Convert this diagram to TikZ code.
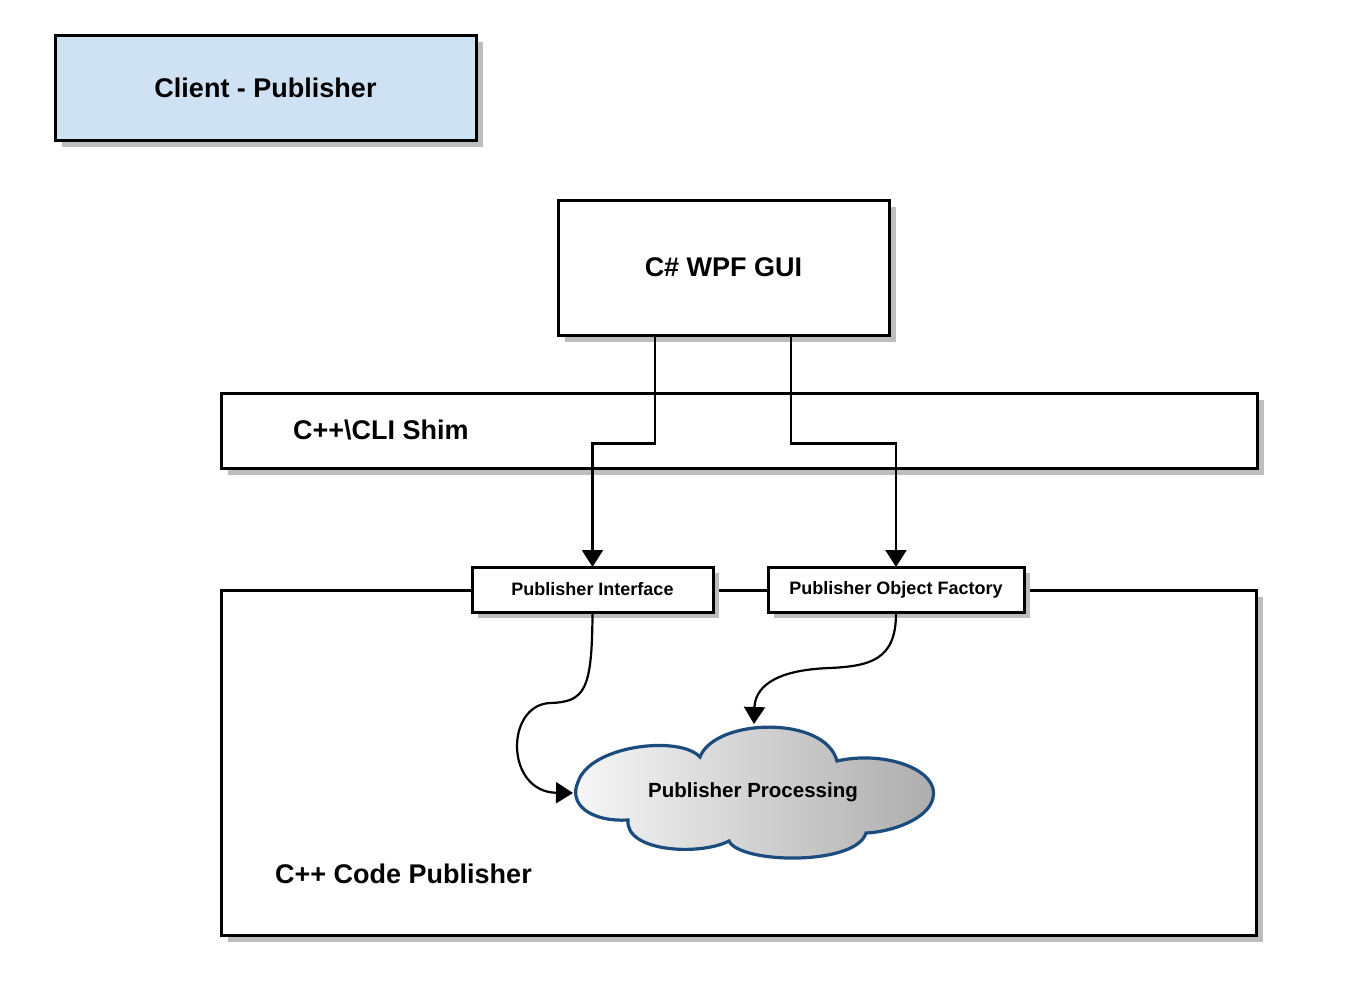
\documentclass[tikz,border=0pt]{standalone}
\usepackage{fontspec}
\setmainfont{Liberation Sans}
\usetikzlibrary{arrows.meta,calc,shadows}
\definecolor{titlefill}{HTML}{CFE2F3}
\definecolor{shadowgray}{HTML}{BDBDBD}
\definecolor{cloudblue}{HTML}{1C4C7E}
\tikzset{
  box/.style={draw=black,line width=3pt,fill=white,rectangle,inner sep=0pt,
    drop shadow={shadow xshift=7pt,shadow yshift=-7pt,fill=shadowgray,opacity=1}},
  smallbox/.style={draw=black,line width=3pt,fill=white,rectangle,inner sep=0pt,
    font=\bfseries\fontsize{18}{21}\selectfont,
    drop shadow={shadow xshift=6pt,shadow yshift=-6pt,fill=shadowgray,opacity=1}},
  bigtext/.style={font=\bfseries\fontsize{27}{31}\selectfont},
  arr/.style={draw=black,line width=2.2pt,-{Triangle[length=17pt,width=21pt]}},
}
\begin{document}
\begin{tikzpicture}[x=1pt,y=-1pt]
\useasboundingbox (0,0) rectangle (1369,1005);
% title
\node[box,fill=titlefill,minimum width=421pt,minimum height=105pt,bigtext] (client) at (265.5,87.5) {Client - Publisher};
% GUI
\node[box,minimum width=331pt,minimum height=135pt,bigtext] (gui) at (723.5,267.5) {C\# WPF GUI};
% shim
\node[box,minimum width=1036pt,minimum height=75pt] (shim) at (739,430.5) {};
\node[bigtext,anchor=west,inner sep=0pt] (shimlabel) at (293,430) {C++\textbackslash CLI Shim};
% code publisher
\node[box,minimum width=1035pt,minimum height=345pt] (code) at (738.5,762.5) {};
\node[bigtext,anchor=west,inner sep=0pt] (codelabel) at (275,874) {C++ Code Publisher};
% small boxes
\node[smallbox,minimum width=241pt,minimum height=45pt] (pi) at (592.5,589.5) {Publisher Interface};
\node[smallbox,minimum width=256pt,minimum height=45pt] (pof) at (896,589.5) {Publisher Object Factory};
% cloud
\path[left color=gray!6,right color=gray!65,draw=cloudblue,line width=3.2pt]
  (578,782) .. controls (590,745) and (680,735) .. (700,757)
  .. controls (715,718) and (825,715) .. (837,761)
  .. controls (885,750) and (940,770) .. (933,798)
  .. controls (928,820) and (890,832) .. (866,833)
  .. controls (856,866) and (740,864) .. (729,841)
  .. controls (700,856) and (625,852) .. (628,820)
  .. controls (590,822) and (568,804) .. (578,782) -- cycle;
\node[font=\bfseries\fontsize{20.5}{24}\selectfont] (cloud) at (753,792) {Publisher Processing};
\coordinate (cloudW) at (573,793);
\coordinate (cloudN) at (754,724);
% connectors
\draw[arr] ([xshift=-68.5pt]gui.south) -- ++(0,107) -| ([yshift=-1.5pt]pi.north);
\draw[arr] ([xshift=67.5pt]gui.south) -- ++(0,107) -| ([yshift=-1.5pt]pof.north);
\draw[arr] (pi.south) .. controls (592,690) and (585,702) .. (550,703)
  .. controls (505,705) and (505,792) .. (cloudW);
\draw[arr] (pof.south) .. controls (896,660) and (870,666) .. (830,668)
  .. controls (770,670) and (755,690) .. (cloudN);
\end{tikzpicture}
\end{document}
